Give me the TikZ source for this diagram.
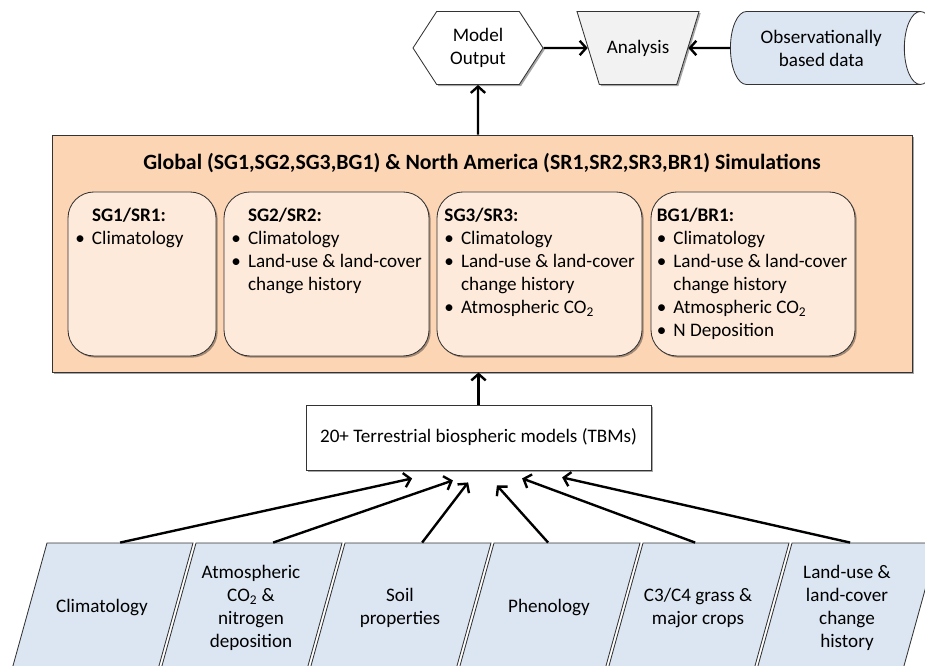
\documentclass[tikz,border=0pt]{standalone}
\usepackage{fontspec}
\setmainfont{Carlito}
\usetikzlibrary{arrows.meta,positioning,shapes.geometric,shapes.symbols,shadows}

\definecolor{simorange}{HTML}{FCD5B5}
\definecolor{simlight}{HTML}{FDEADA}
\definecolor{inblue}{HTML}{DCE6F2}
\definecolor{angray}{HTML}{F2F2F2}

\tikzset{
  txt/.style={font=\fontsize{13.6}{16.4}\selectfont, align=center},
  shade/.style={drop shadow={shadow xshift=1.2pt, shadow yshift=-1.2pt, opacity=0.35, fill=black}},
  outline/.style={draw=black!80, line width=0.6pt},
  flow/.style={line width=1.7pt, -{Straight Barb[length=1.6mm,width=3.6mm]}},
  outbox/.style={txt, outline, signal, signal to=west and east, signal pointer angle=114, fill=white, minimum width=3.25cm, minimum height=1.825cm, inner sep=0pt, shade},
  anbox/.style={txt, outline, trapezium, trapezium stretches body=true, shape border rotate=180, trapezium left angle=73, trapezium right angle=73, minimum width=3.05cm, text height=0.45cm, text depth=0.15cm, inner ysep=0.6125cm, fill=angray, shade},
  obsbox/.style={txt, outline, cylinder, shape aspect=0.7, cylinder uses custom fill, cylinder body fill=inblue, cylinder end fill=white, minimum height=5.15cm, minimum width=1.825cm},
  simframe/.style={outline, fill=simorange, minimum width=21.5cm, minimum height=5.925cm, shade},
  runbox/.style={outline, fill=simlight, rounded corners=0.65cm, minimum height=4.1cm, shade},
  runlist/.style={txt, align=left, anchor=north west, inner sep=0pt},
  tbmbox/.style={txt, outline, fill=white, minimum width=8.625cm, minimum height=1.625cm, shade},
  inshape/.style={outline, fill=inblue, xslant=0.277, minimum width=3.65cm, minimum height=3.25cm, inner sep=0pt},
}

\begin{document}
\begin{tikzpicture}
\clip (0,0) rectangle (23.125,16.625);

% top row
\node[outbox] (out) at (11.95,15.425) {Model\\Output};
\node[anbox] (an) at (15.95,15.425) {Analysis};
\node[obsbox, anchor=bottom] (obs) at (18.25,15.425) {Observationally\\based data};

% simulations
\node[simframe] (sim) at (12.05,10.2875) {};
\node[txt, font=\fontsize{15.5}{18}\selectfont\bfseries] (simtitle) at (12.05,12.55) {Global (SG1,SG2,SG3,BG1) \& North America (SR1,SR2,SR3,BR1) Simulations};

\node[runbox, minimum width=3.7cm] (sg1) at (3.55,9.775) {};
\node[runbox, minimum width=5.125cm] (sg2) at (8.1625,9.775) {};
\node[runbox, minimum width=5.125cm] (sg3) at (13.4875,9.775) {};
\node[runbox, minimum width=5.1cm] (bg1) at (18.825,9.775) {};

\node[runlist, below right=0.33cm and 0.19cm of sg1.north west] (sg1txt) {\begin{tabular}{@{}l@{\hspace{5pt}}l@{}}
 & \textbf{SG1/SR1:}\\
\textbullet & Climatology
\end{tabular}};
\node[runlist, below right=0.33cm and 0.19cm of sg2.north west] (sg2txt) {\begin{tabular}{@{}l@{\hspace{5pt}}l@{}}
 & \textbf{SG2/SR2:}\\
\textbullet & Climatology\\
\textbullet & Land-use \& land-cover\\
 & change history
\end{tabular}};
\node[runlist, below right=0.33cm and 0.19cm of sg3.north west] (sg3txt) {\begin{tabular}{@{}l@{\hspace{5pt}}l@{}}
\multicolumn{2}{@{}l@{}}{\textbf{SG3/SR3:}}\\
\textbullet & Climatology\\
\textbullet & Land-use \& land-cover\\
 & change history\\
\textbullet & Atmospheric CO\textsubscript{2}
\end{tabular}};
\node[runlist, below right=0.33cm and 0.15cm of bg1.north west] (bg1txt) {\begin{tabular}{@{}l@{\hspace{5pt}}l@{}}
\multicolumn{2}{@{}l@{}}{\textbf{BG1/BR1:}}\\
\textbullet & Climatology\\
\textbullet & Land-use \& land-cover\\
 & change history\\
\textbullet & Atmospheric CO\textsubscript{2}\\
\textbullet & N Deposition
\end{tabular}};

% models
\node[tbmbox] (tbm) at (11.9625,5.6875) {20+ Terrestrial biospheric models (TBMs)};

% inputs
\node[inshape] (clim) at (2.55,1.425) {};
\node[inshape] (atm) at (6.275,1.425) {};
\node[inshape] (soil) at (10.0,1.425) {};
\node[inshape] (phen) at (13.725,1.425) {};
\node[inshape] (crop) at (17.45,1.425) {};
\node[inshape] (luc) at (21.175,1.425) {};

\node[txt] (climtxt) at (clim) {Climatology};
\node[txt] (atmtxt) at (atm) {Atmospheric\\CO\textsubscript{2} \&\\nitrogen\\deposition};
\node[txt] (soiltxt) at (soil) {Soil\\properties};
\node[txt] (phentxt) at (phen) {Phenology};
\node[txt] (croptxt) at (crop) {C3/C4 grass \&\\major crops};
\node[txt] (luctxt) at (luc) {Land-use \&\\land-cover\\change\\history};

\coordinate (in1) at ([xshift=-1.66cm,yshift=-0.2cm]tbm.south);
\coordinate (in2) at ([xshift=-0.64cm,yshift=-0.25cm]tbm.south);
\coordinate (in3) at ([xshift=-0.26cm,yshift=-0.3cm]tbm.south);
\coordinate (in4) at ([xshift=0.46cm,yshift=-0.375cm]tbm.south);
\coordinate (in5) at ([xshift=1.09cm,yshift=-0.2cm]tbm.south);
\coordinate (in6) at ([xshift=2.09cm,yshift=-0.175cm]tbm.south);

% connectors
\draw[flow] (out |- sim.north) -- (out);
\draw[flow] (out) -- (an);
\draw[flow] (obs) -- (an);
\draw[flow] (tbm) -- (tbm |- sim.south);
\draw[flow] (clim.north) -- (in1);
\draw[flow] ([xshift=0.1cm]atm.north) -- (in2);
\draw[flow] ([xshift=0.1cm]soil.north) -- (in3);
\draw[flow] ([xshift=-0.475cm]phen.north) -- (in4);
\draw[flow] ([xshift=-0.525cm]crop.north) -- (in5);
\draw[flow] ([xshift=-0.375cm]luc.north) -- (in6);
\end{tikzpicture}
\end{document}
